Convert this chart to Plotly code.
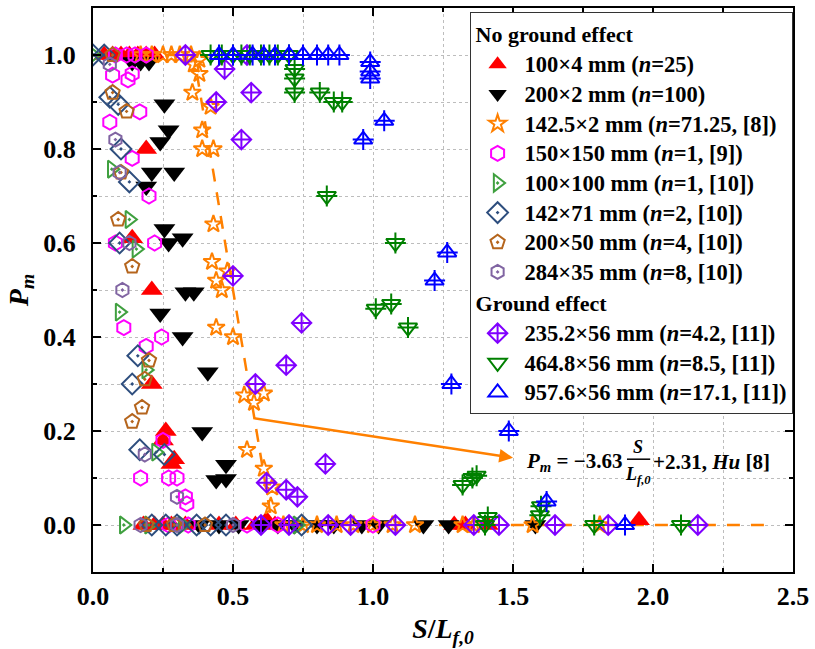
import plotly.graph_objects as go

# ---------------- data ----------------
red_x = [0.04, 0.07, 0.10, 0.13, 0.16, 0.19, 0.22,
         0.19, 0.14, 0.21, 0.21, 0.26, 0.25, 0.28, 0.29,
         0.18, 0.22, 0.25, 0.28, 0.33, 0.45, 0.51, 0.58, 0.62, 0.65, 1.29, 1.33, 1.41, 1.95]
red_y = [1, 1, 1, 1, 1, 1, 1,
         0.80, 0.61, 0.50, 0.30, 0.20, 0.18, 0.13, 0.14,
         0, 0, 0, 0, 0, 0, 0, 0, 0.01, 0, 0, 0, 0, 0.01]

blk_x = [0.14, 0.17, 0.20, 0.255, 0.27, 0.24, 0.21, 0.29, 0.19, 0.255, 0.27, 0.32, 0.33, 0.36,
         0.24, 0.32, 0.41, 0.39, 0.475, 0.44, 0.475,
         0.38, 0.45, 0.52, 0.60, 0.66, 0.72, 0.80, 0.86, 0.96, 1.02, 1.18, 1.27, 1.58]
blk_y = [0.985, 0.985, 0.985, 0.895, 0.84, 0.815, 0.75, 0.75, 0.72, 0.63, 0.60, 0.61, 0.495, 0.495,
         0.45, 0.40, 0.325, 0.198, 0.128, 0.096, 0.098,
         0, 0, 0, 0, 0, 0, 0, 0, 0, 0, 0, 0, 0]

org_x = [0.17, 0.21, 0.25, 0.28, 0.31, 0.35, 0.38, 0.36, 0.38, 0.355, 0.42, 0.39, 0.39, 0.43,
         0.43, 0.425, 0.48, 0.44, 0.46, 0.44, 0.50, 0.54, 0.575, 0.61, 0.55, 0.61, 0.64, 0.635,
         0.68, 0.75, 0.80, 0.87, 0.93, 1.00, 1.07, 1.15, 1.32, 1.36, 1.57, 1.81]
org_y = [1, 1, 1, 1, 1, 1, 0.99, 0.98, 0.96, 0.92, 0.89, 0.84, 0.80, 0.80,
         0.64, 0.56, 0.54, 0.52, 0.50, 0.42, 0.40, 0.276, 0.26, 0.28, 0.16, 0.12, 0.08, 0.04,
         0, 0, 0, 0, 0, 0, 0, 0, 0, 0, 0, 0]

mag_x = [0.08, 0.12, 0.15, 0.19, 0.14, 0.07, 0.125, 0.167, 0.06, 0.14, 0.20, 0.22, 0.08,
         0.11, 0.245, 0.19, 0.25, 0.17, 0.27, 0.30, 0.33, 0.335,
         0.27, 0.34, 0.55, 0.66, 1.00]
mag_y = [1, 1, 1, 1, 0.96, 0.957, 0.947, 0.879, 0.857, 0.78, 0.70, 0.60, 0.60,
         0.42, 0.40, 0.38, 0.18, 0.10, 0.10, 0.10, 0.06, 0.045,
         0, 0, 0, 0, 0]

grt_x = [0.0, 0.067, 0.13, 0.155, 0.095, 0.19, 0.225, 0.11, 0.20, 0.32, 0.73]
grt_y = [1.0, 0.757, 0.65, 0.587, 0.453, 0.33, 0.155, 0, 0, 0, 0]

dia_x = [0.0, 0.04, 0.06, 0.09, 0.10, 0.13, 0.095, 0.16, 0.14, 0.167, 0.255,
         0.21, 0.26, 0.30, 0.37, 0.42, 0.475, 0.745]
dia_y = [1.0, 1.0, 0.91, 0.895, 0.80, 0.73, 0.60, 0.36, 0.30, 0.16, 0.15,
         0, 0, 0, 0, 0, 0, 0]

pen_x = [0.07, 0.07, 0.12, 0.10, 0.09, 0.14, 0.20, 0.185, 0.175, 0.14, 0.19, 0.29, 0.40]
pen_y = [1.0, 0.92, 0.88, 0.75, 0.65, 0.55, 0.35, 0.31, 0.25, 0.22, 0, 0, 0]

hex_x = [0.06, 0.08, 0.095, 0.13, 0.105, 0.185, 0.30, 0.17, 0.30, 0.50]
hex_y = [0.98, 0.82, 0.75, 0.60, 0.50, 0.15, 0.06, 0, 0, 0]

vio_x = [0.33, 0.55, 0.47, 0.565, 0.44, 0.53, 0.50, 0.58, 0.69, 0.745, 0.83, 0.62, 0.69, 0.73,
         0.60, 0.70, 0.84, 0.92, 1.08, 1.36, 1.45, 1.65, 1.84, 2.16]
vio_y = [1.0, 1.0, 0.97, 0.92, 0.90, 0.82, 0.53, 0.30, 0.34, 0.43, 0.13, 0.09, 0.075, 0.06,
         0, 0, 0, 0, 0, 0, 0, 0, 0, 0]

grn_x = [0.42, 0.46, 0.50, 0.53, 0.56, 0.60, 0.63, 0.66, 0.70,
         0.72, 0.72, 0.72, 0.81, 0.86, 0.89, 0.835, 1.08, 1.01, 1.065, 1.125,
         1.32, 1.355, 1.37, 1.41, 1.596, 1.60, 1.40, 1.79, 2.10]
grn_y = [1, 1, 1, 1, 1, 1, 1, 1, 1,
         0.97, 0.95, 0.92, 0.92, 0.90, 0.90, 0.70, 0.60, 0.46, 0.47, 0.42,
         0.085, 0.10, 0.105, 0.017, 0.021, 0.04, 0, 0, 0]

blu_x = [0.45, 0.50, 0.57, 0.61, 0.65, 0.70, 0.75, 0.80, 0.84, 0.88,
         0.99, 0.99, 0.99, 1.04, 0.965, 1.265, 1.22, 1.28, 1.485, 1.62, 1.90]
blu_y = [1, 1, 1, 1, 1, 1, 1, 1, 1, 1,
         0.985, 0.965, 0.95, 0.86, 0.82, 0.58, 0.52, 0.30, 0.20, 0.05, 0]

fit_x = [0.0, 0.36, 0.64, 2.43]
fit_y = [1.0, 1.0, 0.0, 0.0]

names = ["100×4 mm (<i>n</i>=25)", "200×2 mm (<i>n</i>=100)",
         "142.5×2 mm (<i>n</i>=71.25, [8])", "150×150 mm (<i>n</i>=1, [9])",
         "100×100 mm (<i>n</i>=1, [10])", "142×71 mm (<i>n</i>=2, [10])",
         "200×50 mm (<i>n</i>=4, [10])", "284×35 mm (<i>n</i>=8, [10])",
         "235.2×56 mm (<i>n</i>=4.2, [11])", "464.8×56 mm (<i>n</i>=8.5, [11])",
         "957.6×56 mm (<i>n</i>=17.1, [11])"]

FONT = "Liberation Serif, Times New Roman, serif"
ORANGE = "#FF8000"

fig = go.Figure()

# fit line
fig.add_trace(go.Scatter(x=fit_x, y=fit_y, mode="lines", showlegend=False,
                         line=dict(color=ORANGE, width=2.5, dash="13px,11px"),
                         hoverinfo="skip"))

series = [
    (red_x, red_y, "triangle-up", "#FF0000", 19, True, "ng"),
    (blk_x, blk_y, "triangle-down", "#000000", 19, True, "ng"),
    (org_x, org_y, "star-open", ORANGE, 13, False, "ng"),
    (mag_x, mag_y, "hexagon-open", "#FF00FF", 15, False, "ng"),
    (grt_x, grt_y, "triangle-right-open-dot", "#3FA03F", 15, False, "ng"),
    (dia_x, dia_y, "diamond-open-dot", "#2E4E7E", 16, False, "ng"),
    (pen_x, pen_y, "pentagon-open-dot", "#B5651D", 15, False, "ng"),
    (hex_x, hex_y, "hexagon-open-dot", "#8064A2", 14, False, "ng"),
    (vio_x, vio_y, "diamond-cross-open", "#8000FF", 15, False, "g"),
    (grn_x, grn_y, "triangle-down-open", "#008000", 16, False, "g"),
    (blu_x, blu_y, "triangle-up-open", "#0000FF", 16, False, "g"),
]

first = {"ng": True, "g": True}
titles = {"ng": "No ground effect", "g": "Ground effect"}
for (xs, ys, sym, col, sz, filled, grp), nm in zip(series, names):
    kw = {}
    if first[grp]:
        kw["legendgrouptitle"] = dict(text=titles[grp],
                                      font=dict(family=FONT, size=22, color="black", weight="bold"))
        first[grp] = False
    if filled:
        mk = dict(symbol=sym, color=col, size=sz, line=dict(width=0))
    else:
        mk = dict(symbol=sym, color=col, size=sz, line=dict(color=col, width=2))
    fig.add_trace(go.Scatter(x=xs, y=ys, mode="markers",
                             name='<span style="font-size:22.5px">' + nm + '</span>',
                             legendgroup=grp, marker=mk, **kw))
    if sym in ("triangle-down-open", "triangle-up-open"):
        fig.add_trace(go.Scatter(x=xs, y=ys, mode="markers", showlegend=False, legendgroup=grp,
                                 marker=dict(symbol="cross-thin-open", color=col, size=sz - 1,
                                             line=dict(color=col, width=2)),
                                 hoverinfo="skip"))

# arrow and equation
fig.add_annotation(x=1.50, y=0.143, ax=0.567, ay=0.228, xref="x", yref="y", axref="x", ayref="y",
                   text="", showarrow=True, arrowhead=2, arrowsize=1.1, arrowwidth=2.5,
                   arrowcolor=ORANGE)
eqfont = dict(family=FONT, size=21, color="black", weight="bold")
fracfont = dict(family=FONT, size=18, color="black", weight="bold")
fig.add_annotation(x=1.539, y=0.134, xref="x", yref="y", xanchor="left", yanchor="middle",
                   text="<i>P</i><sub><i>m</i></sub> = −3.63", showarrow=False, font=eqfont)
fig.add_annotation(x=1.948, y=0.167, xref="x", yref="y", xanchor="center", yanchor="middle",
                   text="<i>S</i>", showarrow=False, font=fracfont)
fig.add_annotation(x=1.948, y=0.106, xref="x", yref="y", xanchor="center", yanchor="middle",
                   text="<i>L</i><sub><i>f,0</i></sub>", showarrow=False, font=fracfont)
fig.add_shape(type="line", x0=1.907, x1=1.990, y0=0.140, y1=0.140, xref="x", yref="y",
              line=dict(color="black", width=1.5))
fig.add_annotation(x=1.993, y=0.134, xref="x", yref="y", xanchor="left", yanchor="middle",
                   text="+2.31, <i>Hu</i> [8]", showarrow=False, font=eqfont)

tickfont = dict(family=FONT, size=26, color="black", weight="bold")
fig.update_xaxes(range=[0, 2.5], dtick=0.5, tick0=0, tickformat=".1f",
                 showline=True, linecolor="black", linewidth=2, mirror="ticks",
                 ticks="inside", ticklen=8, tickwidth=1.5, tickcolor="black",
                 showgrid=True, gridcolor="#BDBDBD", griddash="dot", gridwidth=1,
                 minor=dict(dtick=0.25, ticks="inside", ticklen=4, tickcolor="black",
                            showgrid=True, gridcolor="#BDBDBD", griddash="dot"),
                 zeroline=False, tickfont=tickfont,
                 title=dict(text="<i>S</i>/<i>L</i><sub><i>f,0</i></sub>", standoff=8,
                            font=dict(family=FONT, size=28, color="black", weight="bold")))
fig.update_yaxes(range=[-0.1, 1.1], dtick=0.2, tick0=0, tickformat=".1f",
                 showline=True, linecolor="black", linewidth=2, mirror="ticks",
                 ticks="inside", ticklen=8, tickwidth=1.5, tickcolor="black",
                 showgrid=True, gridcolor="#BDBDBD", griddash="dot", gridwidth=1,
                 minor=dict(dtick=0.1, ticks="inside", ticklen=4, tickcolor="black",
                            showgrid=True, gridcolor="#BDBDBD", griddash="dot"),
                 zeroline=False, tickfont=tickfont, ticklabelstandoff=10,
                 title=dict(text="<i>P</i><sub><i>m</i></sub>", standoff=6,
                            font=dict(family=FONT, size=28, color="black", weight="bold")))

fig.update_layout(
    width=815, height=649,
    margin=dict(l=93, r=17, t=6, b=77),
    plot_bgcolor="white", paper_bgcolor="white",
    legend=dict(x=0.538, y=0.993, xanchor="left", yanchor="top",
                bgcolor="white", bordercolor="#333333", borderwidth=1,
                font=dict(family=FONT, size=20.5, color="black", weight="bold"),
                traceorder="grouped", tracegroupgap=0, itemwidth=44),
)

fig.write_html("out.html")
